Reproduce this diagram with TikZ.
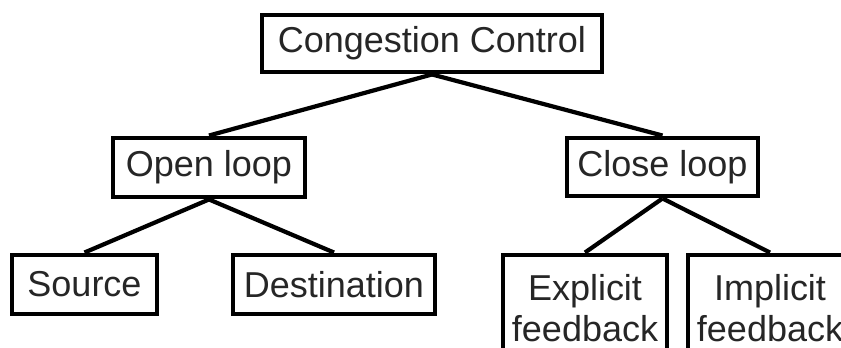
\documentclass[tikz,border=0pt]{standalone}
\usepackage{fontspec}
\setmainfont{Liberation Sans}
\usepackage{tikz}
\usetikzlibrary{positioning}

\tikzset{
    treebox/.style={draw, line width=3.5pt, fill=white, inner sep=2pt,
        font=\fontsize{25.6pt}{29pt}\selectfont, text=black!85, align=center},
    treeedge/.style={line width=3pt}
}

\begin{document}
\begin{tikzpicture}
    \useasboundingbox (0,0) rectangle (21.025,8.7);
    % levels of the tree
    \node[treebox, minimum width=8.5cm, minimum height=1.425cm] (cc) at (10.8,7.6125) {Congestion Control};
    \node[treebox, minimum width=4.8cm, minimum height=1.475cm] (open) at (5.225,4.5125) {Open loop};
    \node[treebox, minimum width=4.775cm, minimum height=1.45cm] (close) at (16.5625,4.525) {Close loop};
    \node[treebox, minimum width=3.625cm, minimum height=1.475cm] (src) at (2.1125,1.5875) {Source};
    \node[treebox, minimum width=5.05cm, minimum height=1.475cm] (dst) at (8.35,1.5875) {Destination};
    \node[treebox, minimum width=4.1cm, minimum height=2.675cm] (expl) at (14.625,0.9875) {Explicit\\feedback};
    \node[treebox, minimum width=4.1cm, minimum height=2.675cm] (impl) at (19.25,0.9875) {Implicit\\feedback};
    % branches
    \draw[treeedge] (cc.south) -- (open.north);
    \draw[treeedge] (cc.south) -- (close.north);
    \draw[treeedge] (open.south) -- (src.north);
    \draw[treeedge] (open.south) -- (dst.north);
    \draw[treeedge] (close.south) -- (expl.north);
    \draw[treeedge] (close.south) -- (impl.north);
\end{tikzpicture}
\end{document}
